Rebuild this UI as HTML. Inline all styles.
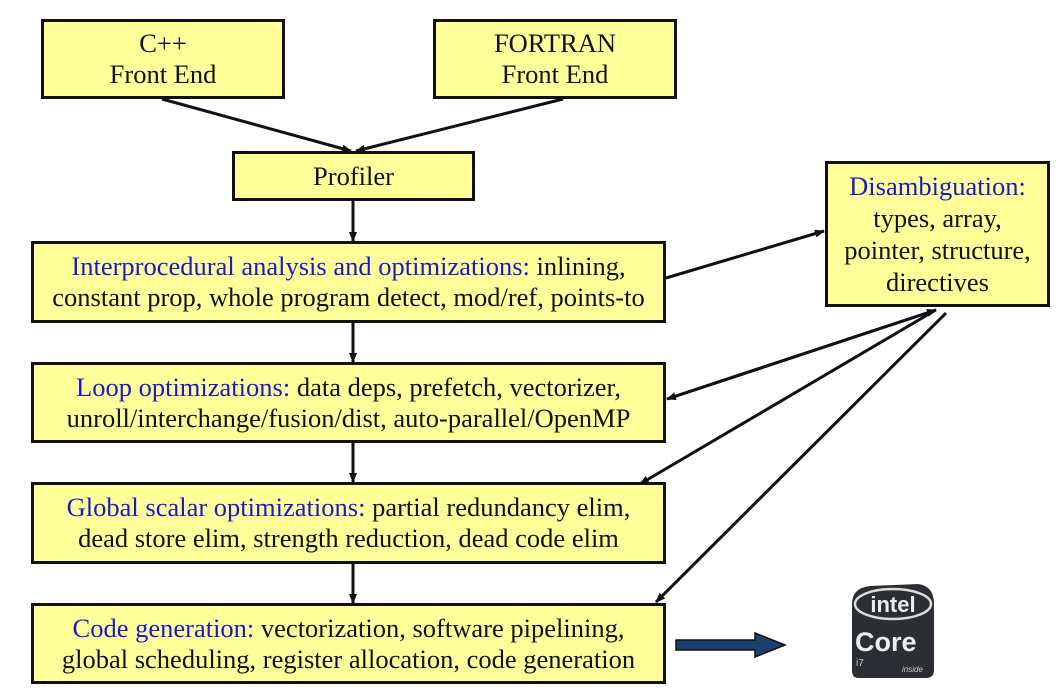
<!DOCTYPE html>
<html><head><meta charset="utf-8"><style>
body{margin:0;background:#fff;width:1060px;height:692px;overflow:hidden;position:relative;font-family:"Liberation Serif",serif;}
.b{position:absolute;background:#ffff99;border:3px solid #111;box-sizing:border-box;display:flex;align-items:center;justify-content:center;text-align:center;font-size:26.5px;line-height:31px;color:#111;white-space:nowrap;}
.c{color:#1a1acc;}
svg{position:absolute;left:0;top:0;}
</style></head><body>
<svg width="1060" height="692">
<defs><marker id="a" markerWidth="10" markerHeight="8" refX="9" refY="4" orient="auto" markerUnits="userSpaceOnUse"><path d="M0,0 L10,4 L0,8 z" fill="#111"/></marker></defs>
<g stroke="#111" stroke-width="3" fill="none">
<line x1="162" y1="99" x2="351" y2="151" marker-end="url(#a)"/>
<line x1="563" y1="99" x2="356" y2="151" marker-end="url(#a)"/>
<line x1="353" y1="201" x2="353" y2="241" marker-end="url(#a)"/>
<line x1="353" y1="322" x2="353" y2="362" marker-end="url(#a)"/>
<line x1="353" y1="442" x2="353" y2="482" marker-end="url(#a)"/>
<line x1="353" y1="563" x2="353" y2="603" marker-end="url(#a)"/>
<line x1="666" y1="278" x2="824" y2="231" marker-end="url(#a)"/>
<line x1="936" y1="310" x2="667" y2="399" marker-end="url(#a)"/>
<line x1="667" y1="399" x2="936" y2="310" marker-end="url(#a)"/>
<line x1="934" y1="311" x2="640" y2="484" marker-end="url(#a)"/>
<line x1="946" y1="313" x2="656" y2="602" marker-end="url(#a)"/>
</g>
<path d="M676,640 L755,640 L755,633 L785,645 L755,657 L755,650 L676,650 z" fill="#1c3f6e" stroke="#111" stroke-width="1.5"/>
<g>
<path d="M852,604 Q852,588 870,586 L918,584 Q934,586 934,604 L934,670 Q934,678 926,678 L858,678 Q852,678 852,670 z" fill="#2b2f33"/>
<ellipse cx="893" cy="604" rx="38" ry="15" fill="none" stroke="#ddd" stroke-width="2.5"/>
<text x="893" y="612" font-family="Liberation Sans,sans-serif" font-size="22" font-weight="bold" fill="#eee" text-anchor="middle">intel</text>
<text x="855" y="651" font-family="Liberation Sans,sans-serif" font-size="27" font-weight="bold" fill="#eee">Core</text>
<text x="856" y="666" font-family="Liberation Sans,sans-serif" font-size="10" fill="#ccc">i7</text>
<text x="902" y="672" font-family="Liberation Sans,sans-serif" font-size="8" font-style="italic" fill="#ccc">inside</text>
</g>
</svg>
<div class="b" style="left:41px;top:19px;width:244px;height:80px;">C++<br>Front End</div>
<div class="b" style="left:433px;top:19px;width:244px;height:80px;">FORTRAN<br>Front End</div>
<div class="b" style="left:232px;top:151px;width:243px;height:50px;">Profiler</div>
<div class="b" style="left:31px;top:241px;width:635px;height:82px;"><div><span class="c">Interprocedural analysis and optimizations:</span> inlining,<br>constant prop, whole program detect, mod/ref, points-to</div></div>
<div class="b" style="left:31px;top:362px;width:635px;height:81px;"><div><span class="c">Loop optimizations:</span> data deps, prefetch, vectorizer,<br>unroll/interchange/fusion/dist, auto-parallel/OpenMP</div></div>
<div class="b" style="left:31px;top:482px;width:635px;height:82px;"><div><span class="c">Global scalar optimizations:</span> partial redundancy elim,<br>dead store elim, strength reduction, dead code elim</div></div>
<div class="b" style="left:31px;top:603px;width:635px;height:81px;"><div><span class="c">Code generation:</span> vectorization, software pipelining,<br>global scheduling, register allocation, code generation</div></div>
<div class="b" style="left:825px;top:161px;width:225px;height:146px;line-height:32px;"><div><span class="c">Disambiguation:</span><br>types, array,<br>pointer, structure,<br>directives</div></div>
</body></html>
